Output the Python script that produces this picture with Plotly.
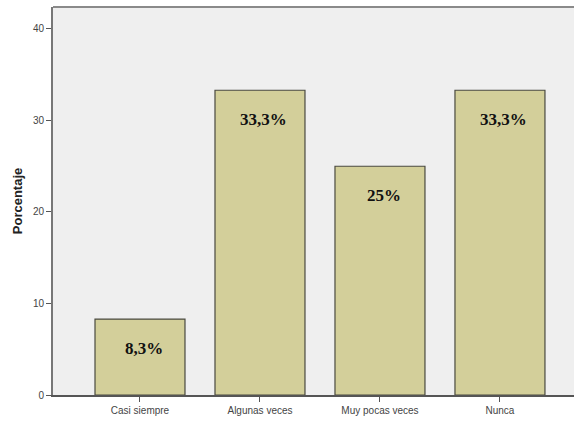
import plotly.graph_objects as go

categories = ["Casi siempre", "Algunas veces", "Muy pocas veces", "Nunca"]
percentages = [8.3, 33.3, 25.0, 33.3]
value_labels = ["8,3%", "33,3%", "25%", "33,3%"]
y_ticks = [0, 10, 20, 30, 40]

fig = go.Figure()
fig.add_trace(go.Bar(
    x=categories,
    y=percentages,
    marker=dict(color="#D3CF9A", line=dict(color="#4A4A40", width=1.2)),
    width=0.75,
    hoverinfo="skip",
))

for cat, val, lab in zip(categories, percentages, value_labels):
    fig.add_annotation(
        x=cat, y=val, text=f"<b>{lab}</b>", showarrow=False,
        yshift=-29, xshift=4,
        font=dict(family="Liberation Serif, Times New Roman, serif", size=17, color="#111111"),
    )

# top frame line of the plotting area
fig.add_shape(type="line", xref="paper", yref="paper", x0=0, x1=1, y0=1, y1=1,
              line=dict(color="#8A8A8A", width=2))

fig.update_layout(
    width=574, height=423,
    margin=dict(l=53, r=0, t=7, b=28),
    paper_bgcolor="white",
    plot_bgcolor="#EFEFEF",
    showlegend=False,
    font=dict(family="Liberation Sans, Arial, sans-serif", size=10, color="#444444"),
    xaxis=dict(
        range=[-0.725, 3.617], showgrid=False, zeroline=False,
        showline=True, linecolor="#555555", linewidth=1.5,
        ticks="outside", ticklen=5, tickcolor="#555555",
        tickfont=dict(size=10, color="#444444"),
    ),
    yaxis=dict(
        range=[0, 42.4], tickvals=y_ticks, showgrid=False, zeroline=False,
        showline=True, linecolor="#777777", linewidth=2,
        ticks="outside", ticklen=5, tickcolor="#555555",
        tickfont=dict(size=10, color="#444444"),
        title=dict(text="<b>Porcentaje</b>", font=dict(size=13, color="#222222"), standoff=7),
    ),
)

fig.write_html("out.html")
